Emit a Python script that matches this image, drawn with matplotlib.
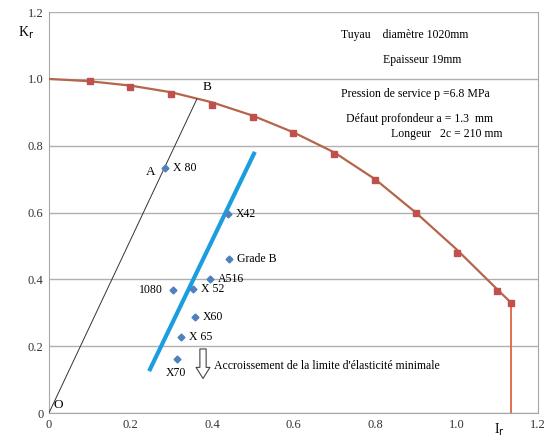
import matplotlib
matplotlib.use("Agg")
import matplotlib.pyplot as plt

plt.rcParams['font.family'] = ['Liberation Serif', 'DejaVu Serif']

# failure assessment curve (Lr, Kr)
lr_curve = [0.0, 0.1, 0.2, 0.3, 0.4, 0.5, 0.6, 0.7, 0.8, 0.9, 1.0, 1.1, 1.134]
kr_curve = [1.0, 0.993, 0.98, 0.96, 0.93, 0.89, 0.84, 0.78, 0.70, 0.60, 0.49, 0.37, 0.33]

# square markers
lr_pts = [0.1, 0.2, 0.3, 0.4, 0.5, 0.6, 0.7, 0.8, 0.9, 1.0, 1.1, 1.134]
kr_pts = [0.994, 0.976, 0.955, 0.922, 0.887, 0.839, 0.776, 0.698, 0.60, 0.48, 0.364, 0.328]

# steel grades
grades = ["X 80", "X42", "Grade B", "A516", "X 52", "1080", "X60", "X 65", "X70"]
grade_lr = [0.285, 0.439, 0.442, 0.395, 0.353, 0.304, 0.358, 0.324, 0.314]
grade_kr = [0.734, 0.597, 0.46, 0.40, 0.37, 0.367, 0.287, 0.227, 0.161]

# blue trend line and O-B line
blue_lr = [0.248, 0.503]
blue_kr = [0.131, 0.776]
ob_lr = [0.0, 0.363]
ob_kr = [0.0, 0.94]

fig = plt.figure(figsize=(5.44, 4.43), dpi=100)
ax = fig.add_axes([0.090, 0.0677, 0.899, 0.905])

ax.set_xlim(0, 1.2)
ax.set_ylim(0, 1.2)
ticks = [0, 0.2, 0.4, 0.6, 0.8, 1.0, 1.2]
ax.set_xticks(ticks)
ax.set_xticklabels(["0", "0.2", "0.4", "0.6", "0.8", "1.0", "1.2"])
ax.set_yticks(ticks)
ax.set_yticklabels(["0", "0.2", "0.4", "0.6", "0.8", "1.0", "1.2"])
ax.tick_params(length=0, labelsize=9, colors='#333333', pad=4)
ax.yaxis.grid(True, color='#b0b0b0', lw=1)
ax.set_axisbelow(True)
for s in ['left', 'bottom', 'right']:
    ax.spines[s].set_color('#a6a6a6')
ax.spines['top'].set_visible(False)

ax.plot(lr_curve, kr_curve, color='#b5654a', lw=1.6, zorder=3)
ax.plot([1.134, 1.134], [0.33, 0.0], color='#e0704f', lw=1.4, zorder=3)
ax.plot(lr_pts, kr_pts, 's', color='#c0504d', ms=5, zorder=4)

ax.plot(ob_lr, ob_kr, color='#333333', lw=0.7, zorder=3)
ax.plot(blue_lr, blue_kr, color='#1a9ee0', lw=3, zorder=3)
ax.plot(grade_lr, grade_kr, 'D', color='#4f81bd', ms=3.5, zorder=4)

fs = 8.5
for name, x, y in zip(grades, grade_lr, grade_kr):
    if name == "1080":
        ax.text(x - 0.025, y, name, ha='right', va='center', fontsize=fs)
    elif name == "X70":
        ax.text(x - 0.002, 0.12, name, ha='center', va='center', fontsize=fs)
    else:
        ax.text(x + 0.02, y, name, ha='left', va='center', fontsize=fs)

ax.text(0.387, 0.976, "B", fontsize=9.5, ha='center', va='center')
ax.text(0.25, 0.72, "A", fontsize=9.5, ha='center', va='center')
ax.text(0.022, 0.024, "O", fontsize=9.5, ha='center', va='center')

ax.text(0.874, 1.13, "Tuyau    diamètre 1020mm", fontsize=fs, ha='center', va='center')
ax.text(0.915, 1.057, "Epaisseur 19mm", fontsize=fs, ha='center', va='center')
ax.text(0.898, 0.955, "Pression de service p =6.8 MPa", fontsize=fs, ha='center', va='center')
ax.text(0.91, 0.88, "Défaut profondeur a = 1.3  mm", fontsize=fs, ha='center', va='center')
ax.text(0.977, 0.836, "Longeur   2c = 210 mm", fontsize=fs, ha='center', va='center')

ax.annotate("", xy=(0.378, 0.095), xytext=(0.378, 0.2),
            arrowprops=dict(arrowstyle='simple,head_width=1.0,head_length=0.8,tail_width=0.45',
                            fc='white', ec='#444444', lw=0.8))
ax.text(0.405, 0.14, "Accroissement de la limite d'élasticité minimale",
        fontsize=fs, ha='left', va='center')

fig.text(18 / 544, 1 - 33 / 443, "K$_{\\mathrm{r}}$", fontsize=10, ha='left', va='center')
fig.text(499 / 544, 1 - 430 / 443, "I$_{\\mathrm{r}}$", fontsize=10, ha='center', va='center')

fig.savefig("out.png", dpi=100)
